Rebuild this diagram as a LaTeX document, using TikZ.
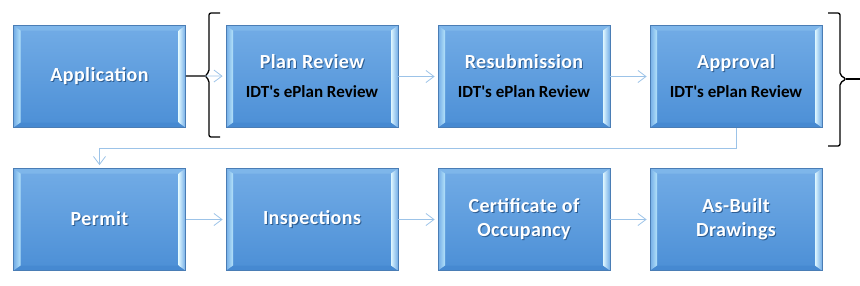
\documentclass[tikz,border=0pt]{standalone}
\usepackage{fontspec}
\setmainfont{Carlito}
\usetikzlibrary{arrows.meta}

\definecolor{boxtop}{HTML}{72ACE6}
\definecolor{boxbot}{HTML}{4C8FD6}
\definecolor{boxline}{HTML}{4A7DB5}
\definecolor{bevelleft}{HTML}{B4E2FA}
\definecolor{bevelright}{HTML}{DDF6FF}
\definecolor{beveltop}{HTML}{7EB6EA}
\definecolor{bevelbot}{HTML}{4689D1}
\definecolor{flowline}{HTML}{9CC3E8}
\definecolor{titleshade}{HTML}{2E5E93}

\newcommand\titleshadow[1]{\rlap{\kern1pt\raisebox{-1pt}{\color{titleshade}#1}}#1}
\newcommand\subtitle[1]{{\color{black}\fontsize{17}{20}\selectfont\addfontfeature{LetterSpace=0}#1}}

\tikzset{
  stage/.style={rectangle, draw=boxline, line width=0.8pt,
    minimum width=172pt, minimum height=102pt, inner sep=0pt,
    top color=boxtop, bottom color=boxbot, text=white, align=center,
    font=\bfseries\fontsize{20}{24}\selectfont\addfontfeature{LetterSpace=2},
    path picture={
      \fill[beveltop] (path picture bounding box.north west)
        -- (path picture bounding box.north east)
        -- ([shift={(-7pt,-5pt)}]path picture bounding box.north east)
        -- ([shift={(7pt,-5pt)}]path picture bounding box.north west) -- cycle;
      \fill[bevelbot] (path picture bounding box.south west)
        -- (path picture bounding box.south east)
        -- ([shift={(-7pt,5pt)}]path picture bounding box.south east)
        -- ([shift={(7pt,5pt)}]path picture bounding box.south west) -- cycle;
      \shade[left color=boxtop, right color=bevelleft] (path picture bounding box.north west)
        -- ([shift={(7pt,-5pt)}]path picture bounding box.north west)
        -- ([shift={(7pt,5pt)}]path picture bounding box.south west)
        -- (path picture bounding box.south west) -- cycle;
      \shade[left color=bevelright, right color=boxtop] (path picture bounding box.north east)
        -- ([shift={(-7pt,-5pt)}]path picture bounding box.north east)
        -- ([shift={(-7pt,5pt)}]path picture bounding box.south east)
        -- (path picture bounding box.south east) -- cycle;
    }},
  flow/.style={draw=flowline, line width=0.8pt,
    -{Straight Barb[length=8pt,width=12pt]}, shorten >=3pt},
  brace/.style={draw=black, line width=1.3pt, rounded corners=2pt}
}

\begin{document}
\begin{tikzpicture}[x=1pt, y=-1pt]
  \useasboundingbox (0,0) rectangle (860,285);
  % first row
  \node (app)   at (99.5,76.5)  [stage] {\titleshadow{Application}};
  \node (plan)  at (312,76.5)   [stage] {\titleshadow{Plan Review}\\[5pt]\subtitle{IDT\textquotesingle s ePlan Review}};
  \node (resub) at (524,76.5)   [stage] {\titleshadow{Resubmission}\\[5pt]\subtitle{IDT\textquotesingle s ePlan Review}};
  \node (appr)  at (736,76.5)   [stage] {\titleshadow{Approval}\\[5pt]\subtitle{IDT\textquotesingle s ePlan Review}};
  % second row
  \node (permit) at (99.5,219.5) [stage] {\titleshadow{Permit}};
  \node (insp)   at (312,219.5)  [stage] {\titleshadow{Inspections}};
  \node (cert)   at (524,219.5)  [stage] {\titleshadow{Certificate of}\\\titleshadow{Occupancy}};
  \node (built)  at (736,219.5)  [stage] {\titleshadow{As-Built}\\\titleshadow{Drawings}};
  % braces
  \coordinate (ltip) at (205,76);
  \coordinate (rtip) at (846,79);
  \coordinate (rend) at (860,79);
  \draw[brace] (220,13) -- (209,13) -- (209,72) -- (ltip) -- (209,80) -- (209,137) -- (220,137);
  \draw[brace] (828,13) -- (840,13) -- (840,75) -- (rtip) -- (840,83) -- (840,146) -- (828,146);
  \draw[black, line width=1.3pt] (app) -- (ltip);
  \draw[black, line width=1.3pt] (rtip) -- (rend);
  % flow
  \draw[flow] (ltip) -- (plan);
  \draw[flow] (plan) -- (resub);
  \draw[flow] (resub) -- (appr);
  \draw[flow] (appr.south) -- ++(0,20) -| (permit.north);
  \draw[flow] (permit) -- (insp);
  \draw[flow] (insp) -- (cert);
  \draw[flow] (cert) -- (built);
\end{tikzpicture}
\end{document}
